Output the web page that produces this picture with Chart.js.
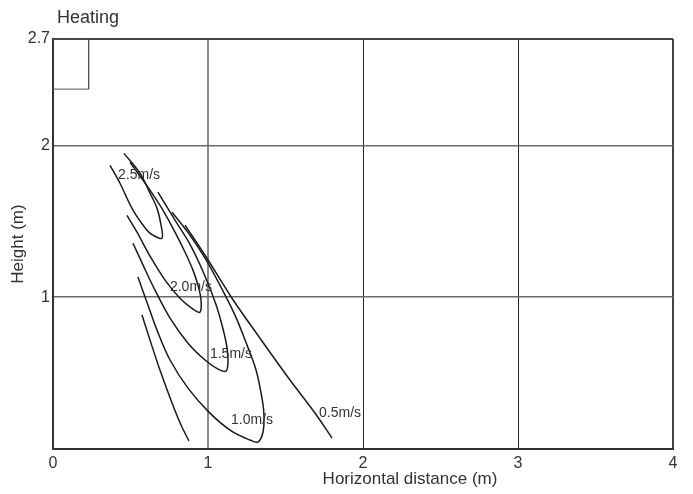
<!DOCTYPE html>
<html lang="en">
<head>
  <meta charset="UTF-8">
  <title>Heating</title>
  <script src="https://cdn.jsdelivr.net/npm/chart.js"></script>
  <style>
    html, body { margin: 0; padding: 0; background: #fff; }
    .chart-box { position: relative; width: 693px; height: 494px; }
  </style>
</head>
<body>
  <div class="chart-box">
    <canvas id="heatingChart"></canvas>
  </div>

  <script>
    // Isovel curves, [horizontal distance (m), height (m)]
    var curve25 = [[0.368, 1.868], [0.432, 1.750], [0.516, 1.573], [0.606, 1.441], [0.645, 1.408], [0.703, 1.388],
                   [0.697, 1.474], [0.671, 1.586], [0.626, 1.684], [0.561, 1.816], [0.458, 1.947]];
    var curve20 = [[0.477, 1.539], [0.542, 1.428], [0.626, 1.270], [0.723, 1.112], [0.819, 0.993], [0.903, 0.921], [0.948, 0.901],
                   [0.955, 0.980], [0.935, 1.079], [0.903, 1.178], [0.852, 1.296], [0.787, 1.428], [0.710, 1.572],
                   [0.626, 1.704], [0.548, 1.816], [0.497, 1.888]];
    var curve15 = [[0.516, 1.355], [0.581, 1.211], [0.658, 1.046], [0.755, 0.862], [0.871, 0.697], [0.981, 0.586],
                   [1.065, 0.526], [1.116, 0.513], [1.129, 0.572], [1.123, 0.664], [1.097, 0.790], [1.052, 0.950],
                   [0.981, 1.138], [0.890, 1.336], [0.787, 1.507], [0.677, 1.691]];
    var curve10 = [[0.548, 1.132], [0.606, 0.967], [0.671, 0.783], [0.755, 0.586], [0.871, 0.401], [1.006, 0.243],
                   [1.142, 0.125], [1.271, 0.059], [1.323, 0.046], [1.355, 0.112], [1.361, 0.224], [1.348, 0.336],
                   [1.310, 0.520], [1.252, 0.684], [1.174, 0.882], [1.077, 1.079], [0.981, 1.257], [0.884, 1.408], [0.768, 1.559]];
    var curve05Left = [[0.574, 0.882], [0.626, 0.717], [0.690, 0.520], [0.768, 0.303], [0.826, 0.158], [0.877, 0.053]];
    var curve05Right = [[0.852, 1.474], [0.981, 1.276], [1.155, 0.993], [1.335, 0.730], [1.529, 0.454], [1.690, 0.237], [1.800, 0.072]];

    // outlet box in the top left corner
    var outletBox = [[0, 2.7], [0.23, 2.7], [0.23, 2.37], [0, 2.37]];

    var speedLabels = ['2.5m/s', '2.0m/s', '1.5m/s', '1.0m/s', '0.5m/s'];
    var speedLabelX = [0.555, 0.890, 1.148, 1.284, 1.852];
    var speedLabelY = [1.803, 1.066, 0.625, 0.191, 0.237];

    var xTicks = [0, 1, 2, 3, 4];
    var yTicks = [0, 1, 2, 2.7];

    var FONT = '"Liberation Sans", Arial, Helvetica, sans-serif';

    function toPoints(arr) {
      return arr.map(function(p) { return { x: p[0], y: p[1] }; });
    }

    function curveSet(arr, width, tension) {
      return {
        data: toPoints(arr),
        showLine: true,
        borderColor: '#1a1a1a',
        borderWidth: width,
        pointRadius: 0,
        tension: tension,
        fill: false
      };
    }

    // text drawn on top: title, axis titles, curve labels
    var textPlugin = {
      id: 'heatingText',
      afterDatasetsDraw: function(chart) {
        var ctx = chart.ctx;
        var xs = chart.scales.x, ys = chart.scales.y;
        ctx.save();
        ctx.fillStyle = '#333';
        ctx.font = '14px ' + FONT;
        ctx.textAlign = 'center';
        ctx.textBaseline = 'middle';
        for (var i = 0; i < speedLabels.length; i++) {
          ctx.fillText(speedLabels[i], xs.getPixelForValue(speedLabelX[i]), ys.getPixelForValue(speedLabelY[i]));
        }
        ctx.restore();
      },
      afterDraw: function(chart) {
        var ctx = chart.ctx;
        var area = chart.chartArea;
        ctx.save();
        ctx.fillStyle = '#333';
        ctx.font = '18px ' + FONT;
        ctx.textAlign = 'left';
        ctx.textBaseline = 'alphabetic';
        ctx.fillText('Heating', 57, 23);

        ctx.font = '17px ' + FONT;
        ctx.textAlign = 'center';
        ctx.fillText('Horizontal distance (m)', 410, 484);

        ctx.translate(18, (area.top + area.bottom) / 2);
        ctx.rotate(-Math.PI / 2);
        ctx.textBaseline = 'middle';
        ctx.fillText('Height (m)', 0, 0);
        ctx.restore();
      }
    };

    var ctx = document.getElementById('heatingChart').getContext('2d');
    var heatingChart = new Chart(ctx, {
      type: 'scatter',
      data: {
        datasets: [
          curveSet(curve25, 1.5, 0.35),
          curveSet(curve20, 1.5, 0.35),
          curveSet(curve15, 1.5, 0.35),
          curveSet(curve10, 1.5, 0.35),
          curveSet(curve05Left, 1.5, 0.35),
          curveSet(curve05Right, 1.5, 0.35),
          {
            data: toPoints(outletBox),
            showLine: true,
            borderColor: '#555',
            borderWidth: 1,
            pointRadius: 0,
            tension: 0,
            fill: false
          }
        ]
      },
      options: {
        responsive: true,
        maintainAspectRatio: false,
        animation: false,
        layout: { padding: { top: 39, right: 20, left: 0, bottom: 0 } },
        plugins: {
          legend: { display: false },
          tooltip: { enabled: false },
          title: { display: false }
        },
        scales: {
          x: {
            type: 'linear',
            min: 0,
            max: 4,
            afterFit: function(scale) { scale.height = 45; },
            afterBuildTicks: function(scale) {
              scale.ticks = xTicks.map(function(v) { return { value: v }; });
            },
            border: { display: true, color: '#333', width: 2 },
            grid: {
              drawTicks: false,
              color: function(c) {
                var v = c.tick ? c.tick.value : null;
                if (v === 1) return '#8a8a8a';
                if (v === 4) return '#444';
                return '#222';
              },
              lineWidth: function(c) {
                var v = c.tick ? c.tick.value : null;
                if (v === 1 || v === 4) return 2;
                return 1;
              }
            },
            ticks: {
              padding: 5,
              color: '#333',
              font: { family: FONT, size: 16 }
            }
          },
          y: {
            type: 'linear',
            min: 0,
            max: 2.7,
            afterFit: function(scale) { scale.width = 53; },
            afterBuildTicks: function(scale) {
              scale.ticks = yTicks.map(function(v) { return { value: v }; });
            },
            border: { display: true, color: '#333', width: 2 },
            grid: {
              drawTicks: false,
              color: function(c) {
                var v = c.tick ? c.tick.value : null;
                if (v === 2.7) return '#444';
                return '#6a6a6a';
              },
              lineWidth: function(c) {
                var v = c.tick ? c.tick.value : null;
                if (v === 2.7) return 2;
                return 1.5;
              }
            },
            ticks: {
              padding: 3,
              color: '#333',
              font: { family: FONT, size: 16 },
              callback: function(value) { return value === 0 ? '' : String(value); }
            }
          }
        }
      },
      plugins: [textPlugin]
    });
  </script>
</body>
</html>
